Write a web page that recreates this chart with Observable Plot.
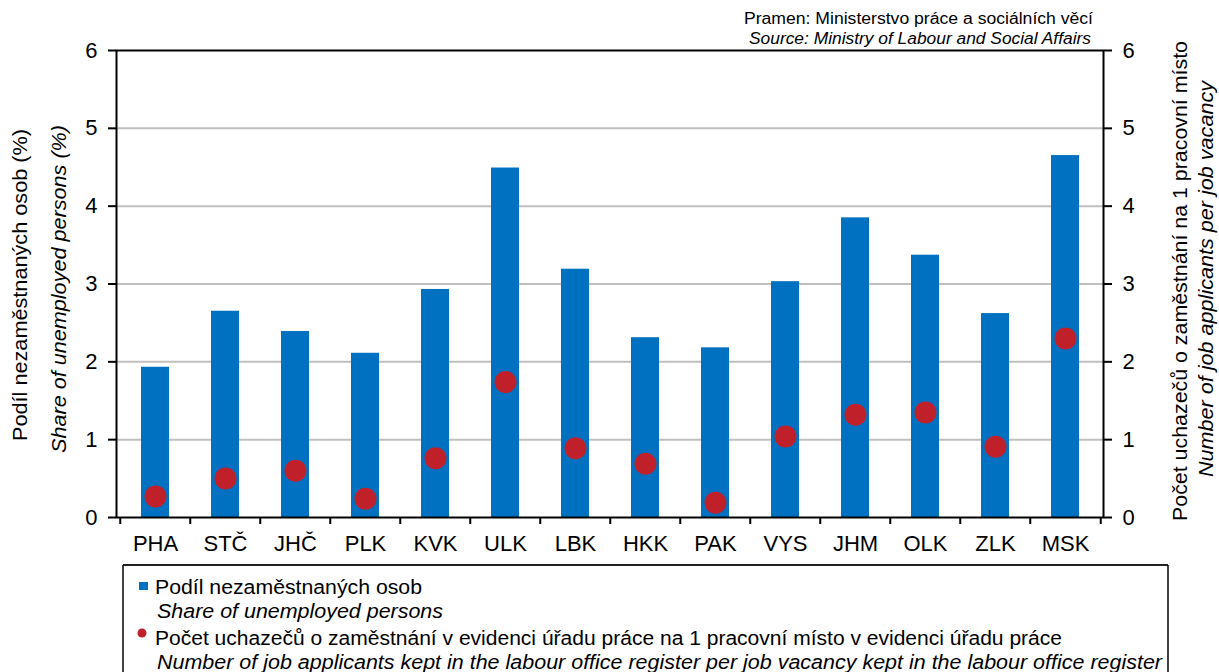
<!DOCTYPE html>
<html>
<head>
<meta charset="utf-8">
<script src="https://cdn.jsdelivr.net/npm/d3@7"></script>
<script src="https://cdn.jsdelivr.net/npm/@observablehq/plot@0.6"></script>
<style>
  html, body { margin: 0; padding: 0; background: white; }
  #wrap { width: 1219px; height: 672px; overflow: hidden; position: relative; font-family: 'Liberation Sans', Arial, sans-serif; }
  #wrap svg { display: block; }
</style>
</head>
<body>
<div id="wrap"></div>
<script>
// ---- data ----
const regions = ["PHA","STČ","JHČ","PLK","KVK","ULK","LBK","HKK","PAK","VYS","JHM","OLK","ZLK","MSK"];
const unemployedShare = [1.93,2.65,2.39,2.11,2.93,4.49,3.19,2.31,2.18,3.03,3.85,3.37,2.62,4.65];
const applicantsPerVacancy = [0.27,0.50,0.60,0.24,0.76,1.74,0.89,0.69,0.19,1.04,1.32,1.35,0.91,2.30];
const yTicks = [0,1,2,3,4,5,6];
const gridTicks = [1,2,3,4,5];

const sourceCz = "Pramen: Ministerstvo práce a sociálních věcí";
const sourceEn = "Source: Ministry of Labour and Social Affairs";
const leftTitleCz = "Podíl nezaměstnaných osob (%)";
const leftTitleEn = "Share of unemployed persons (%)";
const rightTitleCz = "Počet uchazečů o zaměstnání na 1 pracovní místo";
const rightTitleEn = "Number of job applicants per job vacancy";
const legendShareCz = "Podíl nezaměstnaných osob";
const legendShareEn = "Share of unemployed persons";
const legendRatioCz = "Počet uchazečů o zaměstnání v evidenci úřadu práce na 1 pracovní místo v evidenci úřadu práce";
const legendRatioEn = "Number of job applicants kept in the labour office register per job vacancy kept in the labour office register";

const data = regions.map((r, i) => ({region: r, share: unemployedShare[i], ratio: applicantsPerVacancy[i]}));

const FONT = "'Liberation Sans', Arial, sans-serif";
const W = 1219, H = 560;
const mL = 116, mR = 116, mT = 50, mB = 43;
const step = (W - mL - mR) / regions.length;
const blue = "#0070C0", red = "#C0202A";

const chart = Plot.plot({
  width: W, height: H,
  marginTop: mT, marginLeft: mL, marginRight: mR, marginBottom: mB,
  style: {fontFamily: FONT, background: "white", color: "black", fontSize: "22px"},
  x: {domain: regions, paddingInner: 0.6, paddingOuter: 0.3, label: null},
  y: {domain: [0, 6], label: null},
  marks: [
    Plot.ruleY(gridTicks, {stroke: "#BFBFBF", strokeWidth: 2}),
    Plot.barY(data, {x: "region", y: "share", fill: blue}),
    Plot.dot(data, {x: "region", y: "ratio", r: 11, fill: red}),
    Plot.frame({stroke: "black", strokeWidth: 2}),
    Plot.axisY(yTicks, {anchor: "left", tickSize: 8, tickPadding: 11, fontSize: 22, strokeWidth: 2, tickFormat: d => String(d), label: null}),
    Plot.axisY(yTicks, {anchor: "right", tickSize: 8, tickPadding: 11, fontSize: 22, strokeWidth: 2, tickFormat: d => String(d), label: null}),
    Plot.axisX({tickSize: 0, tickPadding: 18, fontSize: 22, label: null}),
    Plot.ruleX(regions, {x: d => d, y1: 0, y2: -0.09, dx: -step / 2, strokeWidth: 2}),
    Plot.ruleX(regions.slice(-1), {x: d => d, y1: 0, y2: -0.09, dx: step / 2, strokeWidth: 2})
  ]
});

const svg = d3.select(chart);
function addText(txt, opts) {
  const t = svg.append("text")
    .attr("x", opts.x).attr("y", opts.y)
    .attr("text-anchor", opts.anchor || "start")
    .attr("font-size", opts.size || 16)
    .attr("font-family", FONT)
    .attr("fill", "black")
    .text(txt);
  if (opts.italic) t.attr("font-style", "italic");
  if (opts.rotate) {
    t.attr("transform", `rotate(${opts.rotate},${opts.x},${opts.y})`).attr("dominant-baseline", "central");
  }
  if (opts.len) t.attr("textLength", opts.len).attr("lengthAdjust", "spacingAndGlyphs");
  return t;
}
// source
addText(sourceCz, {x: 1093, y: 24, anchor: "end", size: 16, len: 349});
addText(sourceEn, {x: 1091, y: 44, anchor: "end", size: 16, italic: true, len: 342});
// axis titles
addText(leftTitleCz, {x: 20, y: 285, anchor: "middle", size: 20, rotate: -90, len: 312});
addText(leftTitleEn, {x: 59, y: 289, anchor: "middle", size: 20, rotate: -90, italic: true, len: 328});
addText(rightTitleCz, {x: 1180, y: 281, anchor: "middle", size: 20, rotate: -90, len: 480});
addText(rightTitleEn, {x: 1206, y: 279, anchor: "middle", size: 20, rotate: -90, italic: true, len: 396});

document.getElementById("wrap").appendChild(chart);

// ---- legend (below chart) ----
const LH = 672 - H;
const leg = d3.select("#wrap").append("svg").attr("width", W).attr("height", LH);
const oy = H; // offset
leg.append("line").attr("x1", 123).attr("x2", 1168).attr("y1", 565 - oy).attr("y2", 565 - oy).attr("stroke", "#222").attr("stroke-width", 2);
leg.append("line").attr("x1", 123).attr("x2", 123).attr("y1", 565 - oy).attr("y2", LH + 5).attr("stroke", "black").attr("stroke-width", 1.5);
leg.append("line").attr("x1", 1168).attr("x2", 1168).attr("y1", 565 - oy).attr("y2", LH + 5).attr("stroke", "black").attr("stroke-width", 1.5);
leg.append("rect").attr("x", 139).attr("y", 582 - oy).attr("width", 9).attr("height", 8).attr("fill", blue);
leg.append("circle").attr("cx", 142).attr("cy", 633 - oy).attr("r", 4.5).attr("fill", red);
function legText(txt, x, y, len, italic) {
  const t = leg.append("text").attr("x", x).attr("y", y - oy).attr("font-size", 20)
    .attr("font-family", FONT).attr("fill", "black")
    .attr("textLength", len).attr("lengthAdjust", "spacingAndGlyphs").text(txt);
  if (italic) t.attr("font-style", "italic");
}
legText(legendShareCz, 155, 594, 267, false);
legText(legendShareEn, 157, 618, 286, true);
legText(legendRatioCz, 155, 645, 907, false);
legText(legendRatioEn, 157, 669, 1005, true);
</script>
</body>
</html>
